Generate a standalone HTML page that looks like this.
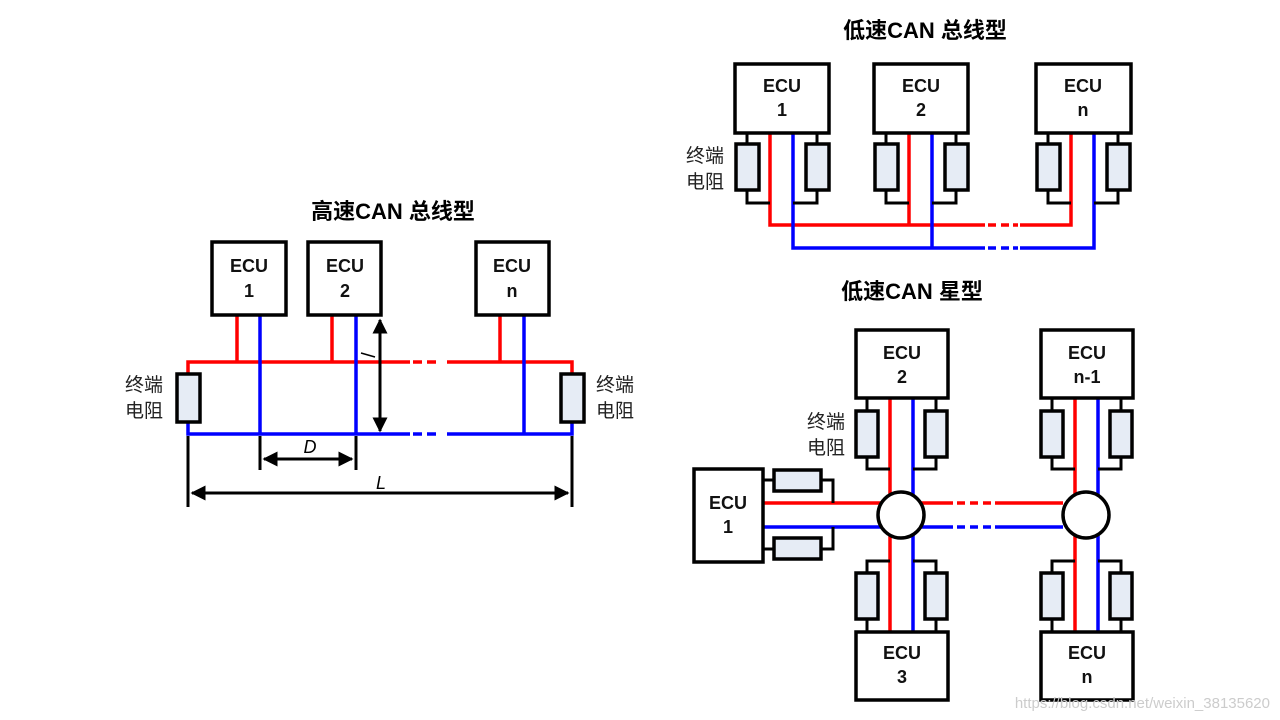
<!DOCTYPE html>
<html><head><meta charset="utf-8"><style>
body{margin:0;background:#fff}
svg{display:block}
.t{font-family:"Liberation Sans","Noto Sans CJK SC",sans-serif;font-weight:bold;font-size:22px;text-anchor:middle}
.e{font-family:"Liberation Sans",sans-serif;font-weight:bold;font-size:18px;text-anchor:middle;fill:#111}
.c{font-family:"Liberation Sans","Noto Sans CJK SC",sans-serif;font-size:19px;fill:#222}
.b{fill:#fff;stroke:#000;stroke-width:3.5}
.r{fill:#e6ecf5;stroke:#000;stroke-width:3.5}
.k{stroke:#000;stroke-width:3;fill:none}
.rd{stroke:#ff0000;stroke-width:3.5;fill:none}
.bl{stroke:#0000ff;stroke-width:3.5;fill:none}
</style></head><body>
<svg width="1280" height="720" viewBox="0 0 1280 720">
<defs>
<marker id="ar" viewBox="0 0 10 10" refX="9" refY="5" markerWidth="5" markerHeight="5" orient="auto-start-reverse"><path d="M0,0L10,5L0,10z" fill="#000"/></marker>
</defs>
<text class="t" x="393" y="219">高速CAN 总线型</text>
<text class="t" x="925" y="38">低速CAN 总线型</text>
<text class="t" x="912" y="299">低速CAN 星型</text>

<path class="rd" d="M188,373V362H410M447,362H572V373M237,315V362M332,315V362M500,315V362"/>
<path class="rd" d="M413,362h9M427,362h9" />
<path class="bl" d="M188,423V434H410M447,434H572V423M260,315V434M356,315V434M524,315V434"/>
<path class="bl" d="M413,434h9M427,434h9"/>
<rect class="b" x="212" y="242" width="74" height="73"/>
<rect class="b" x="308" y="242" width="73" height="73"/>
<rect class="b" x="476" y="242" width="73" height="73"/>
<text class="e" x="249" y="272">ECU</text><text class="e" x="249" y="297">1</text>
<text class="e" x="345" y="272">ECU</text><text class="e" x="345" y="297">2</text>
<text class="e" x="512" y="272">ECU</text><text class="e" x="512" y="297">n</text>
<rect class="r" x="177" y="374" width="23" height="48"/>
<rect class="r" x="561" y="374" width="23" height="48"/>
<text class="c" x="125" y="391">终端</text><text class="c" x="125" y="417">电阻</text>
<text class="c" x="596" y="391">终端</text><text class="c" x="596" y="417">电阻</text>
<path class="k" d="M188,436V507M572,436V507M260,436V470M356,436V470"/>
<path class="k" d="M264,459H352" marker-start="url(#ar)" marker-end="url(#ar)"/>
<path class="k" d="M192,493H568" marker-start="url(#ar)" marker-end="url(#ar)"/>
<path class="k" d="M380,320V431" marker-start="url(#ar)" marker-end="url(#ar)"/>
<path d="M361,353l14,4" stroke="#000" stroke-width="1.5"/>
<text x="310" y="453" style="font-family:'Liberation Sans',sans-serif;font-style:italic;font-size:18px;text-anchor:middle">D</text>
<text x="381" y="489" style="font-family:'Liberation Sans',sans-serif;font-style:italic;font-size:18px;text-anchor:middle">L</text>

<path class="rd" d="M770,133V225H985M1020,225H1071V133M909,133V225"/>
<path class="rd" d="M988,225h8M1001,225h8M1013,225h5"/>
<path class="bl" d="M793,133V248H985M1020,248H1094V133M932,133V248"/>
<path class="bl" d="M988,248h8M1001,248h8M1013,248h5"/>
<g>
<path class="k" d="M747,133V143M747,190V203H770M817,133V143M817,190V203H793"/>
<path class="k" d="M886,133V143M886,190V203H909M956,133V143M956,190V203H932"/>
<path class="k" d="M1048,133V143M1048,190V203H1071M1118,133V143M1118,190V203H1094"/>
<rect class="r" x="736" y="144" width="23" height="46"/><rect class="r" x="806" y="144" width="23" height="46"/>
<rect class="r" x="875" y="144" width="23" height="46"/><rect class="r" x="945" y="144" width="23" height="46"/>
<rect class="r" x="1037" y="144" width="23" height="46"/><rect class="r" x="1107" y="144" width="23" height="46"/>
</g>
<rect class="b" x="735" y="64" width="94" height="69"/>
<rect class="b" x="874" y="64" width="94" height="69"/>
<rect class="b" x="1036" y="64" width="95" height="69"/>
<text class="e" x="782" y="92">ECU</text><text class="e" x="782" y="116">1</text>
<text class="e" x="921" y="92">ECU</text><text class="e" x="921" y="116">2</text>
<text class="e" x="1083" y="92">ECU</text><text class="e" x="1083" y="116">n</text>
<text class="c" x="686" y="162">终端</text><text class="c" x="686" y="188">电阻</text>

<path class="rd" d="M890,398V632M1075,398V632M763,503H953M995,503H1063"/>
<path class="rd" d="M957,503h8M970,503h8M983,503h8"/>
<path class="bl" d="M913,398V632M1098,398V632M763,527H953M995,527H1063"/>
<path class="bl" d="M957,527h8M970,527h8M983,527h8"/>
<path class="k" d="M867,398V410M867,458V469H890M936,398V410M936,458V469H913"/>
<path class="k" d="M867,632V620M867,572V561H890M936,632V620M936,572V561H913"/>
<path class="k" d="M1052,398V410M1052,458V469H1075M1121,398V410M1121,458V469H1098"/>
<path class="k" d="M1052,632V620M1052,572V561H1075M1121,632V620M1121,572V561H1098"/>
<path class="k" d="M763,480H773M822,480H833V503M763,549H773M822,549H833V527"/>
<rect class="r" x="856" y="411" width="22" height="46"/><rect class="r" x="925" y="411" width="22" height="46"/>
<rect class="r" x="856" y="573" width="22" height="46"/><rect class="r" x="925" y="573" width="22" height="46"/>
<rect class="r" x="1041" y="411" width="22" height="46"/><rect class="r" x="1110" y="411" width="22" height="46"/>
<rect class="r" x="1041" y="573" width="22" height="46"/><rect class="r" x="1110" y="573" width="22" height="46"/>
<rect class="r" x="774" y="470" width="47" height="21"/><rect class="r" x="774" y="538" width="47" height="21"/>
<circle cx="901" cy="515" r="23" fill="#fff" stroke="#000" stroke-width="3.5"/>
<circle cx="1086" cy="515" r="23" fill="#fff" stroke="#000" stroke-width="3.5"/>
<rect class="b" x="856" y="330" width="92" height="68"/>
<rect class="b" x="856" y="632" width="92" height="68"/>
<rect class="b" x="1041" y="330" width="92" height="68"/>
<rect class="b" x="1041" y="632" width="92" height="68"/>
<rect class="b" x="694" y="469" width="69" height="93"/>
<text class="e" x="902" y="359">ECU</text><text class="e" x="902" y="383">2</text>
<text class="e" x="902" y="659">ECU</text><text class="e" x="902" y="683">3</text>
<text class="e" x="1087" y="359">ECU</text><text class="e" x="1087" y="383">n-1</text>
<text class="e" x="1087" y="659">ECU</text><text class="e" x="1087" y="683">n</text>
<text class="e" x="728" y="509">ECU</text><text class="e" x="728" y="533">1</text>
<text class="c" x="807" y="428">终端</text><text class="c" x="807" y="454">电阻</text>
<text x="1270" y="708" style="font-family:'Liberation Sans',sans-serif;font-size:15px;fill:#ccc;text-anchor:end">https://blog.csdn.net/weixin_38135620</text>
</svg>
</body></html>
